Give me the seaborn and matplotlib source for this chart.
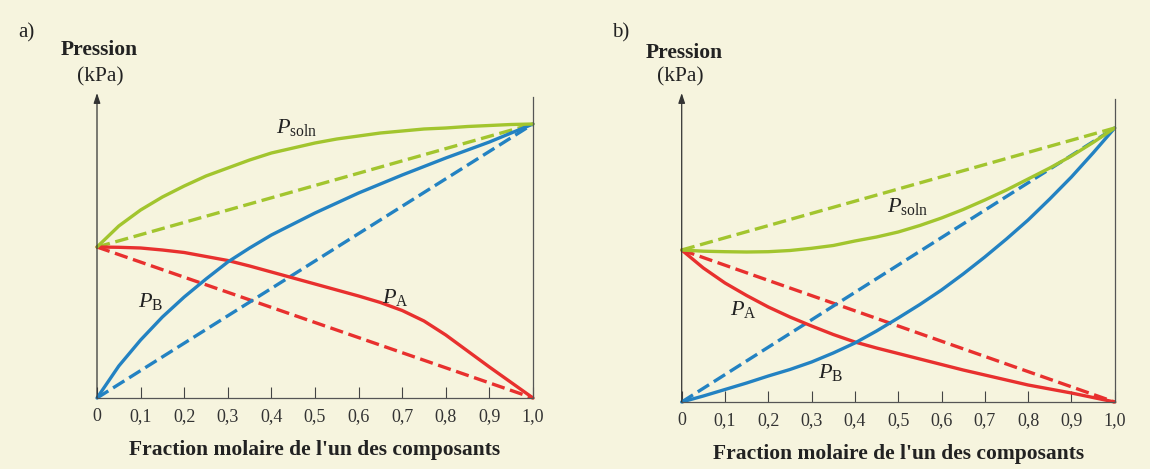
import numpy as np
import pandas as pd
import matplotlib
matplotlib.use('Agg')
import matplotlib.pyplot as plt
import seaborn as sns

# mole fraction of one component (x axis)
x_frac = [0, 0.05, 0.1, 0.15, 0.2, 0.25, 0.3, 0.35, 0.4, 0.45, 0.5,
          0.55, 0.6, 0.65, 0.7, 0.75, 0.8, 0.85, 0.9, 0.95, 1.0]
x_ticks = [0, 0.1, 0.2, 0.3, 0.4, 0.5, 0.6, 0.7, 0.8, 0.9, 1.0]
x_ticklabels = ['0', '0,1', '0,2', '0,3', '0,4', '0,5', '0,6', '0,7', '0,8', '0,9', '1,0']

# a) positive deviation (arbitrary pressure scale)
a_soln = [151, 172, 188, 201, 212, 222, 230, 238, 245, 250, 255,
          259, 262, 265, 267, 269, 270, 271.5, 272.5, 273.5, 274]
a_pa = [151, 150.7, 150, 148, 145.5, 141.5, 137.5, 132, 126, 120, 114,
        108, 102, 95.5, 87.5, 77, 63, 47, 31, 15.5, 0]
a_pb = [0, 32, 58, 81, 101, 119, 136, 150, 163, 174, 185,
        195, 205, 214, 223, 231.5, 240, 248, 256, 265, 274]
a_ideal_x = [0, 1.0]
a_ideal_soln = [151, 274]
a_ideal_pa = [151, 0]
a_ideal_pb = [0, 274]

# b) negative deviation
b_soln = [152, 150.8, 150.3, 150, 150.3, 151.5, 153.7, 156.5, 161, 165, 170,
          176.5, 184, 192.5, 202, 212, 223, 234, 246, 259.5, 274]
b_pa = [152, 134, 119, 106.5, 95, 85, 76, 67.5, 60, 54, 48.5,
        43, 37.5, 32, 27, 22, 17, 13, 9, 4.5, 0]
b_pb = [0, 6, 12.5, 19, 26, 32.5, 40, 49, 59, 71, 84,
        97.5, 112, 128, 145, 163, 182, 203, 225, 249, 274]
b_ideal_x = [0, 1.0]
b_ideal_soln = [152, 274]
b_ideal_pa = [152, 0]
b_ideal_pb = [0, 274]

green = '#a2c52e'
blue = '#2382c2'
red = '#e8302e'
bg = '#f6f4de'

sns.set_style('ticks', rc={'axes.facecolor': bg, 'figure.facecolor': bg})
plt.rcParams['font.family'] = ['Liberation Serif', 'DejaVu Serif']
plt.rcParams['mathtext.fontset'] = 'custom'
plt.rcParams['mathtext.rm'] = 'Liberation Serif'
plt.rcParams['mathtext.it'] = 'Liberation Serif:italic'

W, H = 1150, 469
fig = plt.figure(figsize=(W / 100, H / 100), dpi=100)

def px_axes(x0, x1, ybase, ytop):
    return fig.add_axes([x0 / W, (H - ybase) / H, (x1 - x0) / W, (ybase - ytop) / H])

ax_a = px_axes(97, 533, 398, 93)
ax_b = px_axes(681.7, 1114.7, 402, 93)

def draw_panel(ax, soln, pa, pb, ix, isoln, ipa, ipb, ytop, right_top, labels):
    lw = 2.4
    dash = (4.0, 1.7)
    for yv, col in [(ipa, red), (ipb, blue), (isoln, green)]:
        sns.lineplot(x=ix, y=yv, color=col, lw=lw, ax=ax, clip_on=False)
        ax.lines[-1].set_dashes(dash)
    for yv, col in [(pa, red), (pb, blue), (soln, green)]:
        sns.lineplot(x=x_frac, y=yv, color=col, lw=lw, ax=ax, clip_on=False)
    ax.set_xlim(0, 1)
    ax.set_ylim(0, ytop)
    ax.set_xticks(x_ticks)
    ax.set_xticklabels(x_ticklabels, fontsize=13, color='#333333')
    ax.set_yticks([])
    ax.tick_params(axis='x', direction='in', length=8, width=0.8, pad=7, color='#444444')
    for s in ['top', 'left']:
        ax.spines[s].set_visible(False)
    ax.spines['bottom'].set_linewidth(0.9)
    ax.spines['bottom'].set_color('#555555')
    ax.spines['right'].set_bounds(0, right_top)
    ax.spines['right'].set_linewidth(0.9)
    ax.spines['right'].set_color('#555555')
    ax.annotate('', xy=(0, 1), xycoords='axes fraction', xytext=(0, 0),
                textcoords='axes fraction',
                arrowprops=dict(arrowstyle='-|>,head_length=0.6,head_width=0.2',
                                color='#333333', lw=0.9, shrinkA=0, shrinkB=0))
    ax.set_xlabel("Fraction molaire de l'un des composants", fontsize=15.5,
                  fontweight='bold', color='#222222', labelpad=11)
    for txt, tx, ty in labels:
        ax.text(tx, ty, txt, fontsize=16, ha='left', va='baseline', color='#222222')

draw_panel(ax_a, a_soln, a_pa, a_pb, a_ideal_x, a_ideal_soln, a_ideal_pa, a_ideal_pb,
           305, 301,
           [(r'$P_{\rm soln}$', 0.41, 265), (r'$P_{\rm B}$', 0.094, 91), (r'$P_{\rm A}$', 0.653, 95)])
draw_panel(ax_b, b_soln, b_pa, b_pb, b_ideal_x, b_ideal_soln, b_ideal_pa, b_ideal_pb,
           309, 303,
           [(r'$P_{\rm soln}$', 0.473, 190), (r'$P_{\rm A}$', 0.112, 87), (r'$P_{\rm B}$', 0.315, 24)])

def ftext(x, y, s, **kw):
    fig.text(x / W, 1 - y / H, s, color='#222222', **kw)

ftext(18, 33, 'a)', fontsize=15, ha='left', va='center')
ftext(99, 50, 'Pression', fontsize=15.5, fontweight='bold', ha='center', va='center')
ftext(100, 77, '(kPa)', fontsize=15.5, ha='center', va='center')
ftext(612, 33, 'b)', fontsize=15, ha='left', va='center')
ftext(684, 53, 'Pression', fontsize=15.5, fontweight='bold', ha='center', va='center')
ftext(680, 77, '(kPa)', fontsize=15.5, ha='center', va='center')

fig.savefig('out.png', dpi=100, facecolor=bg)
